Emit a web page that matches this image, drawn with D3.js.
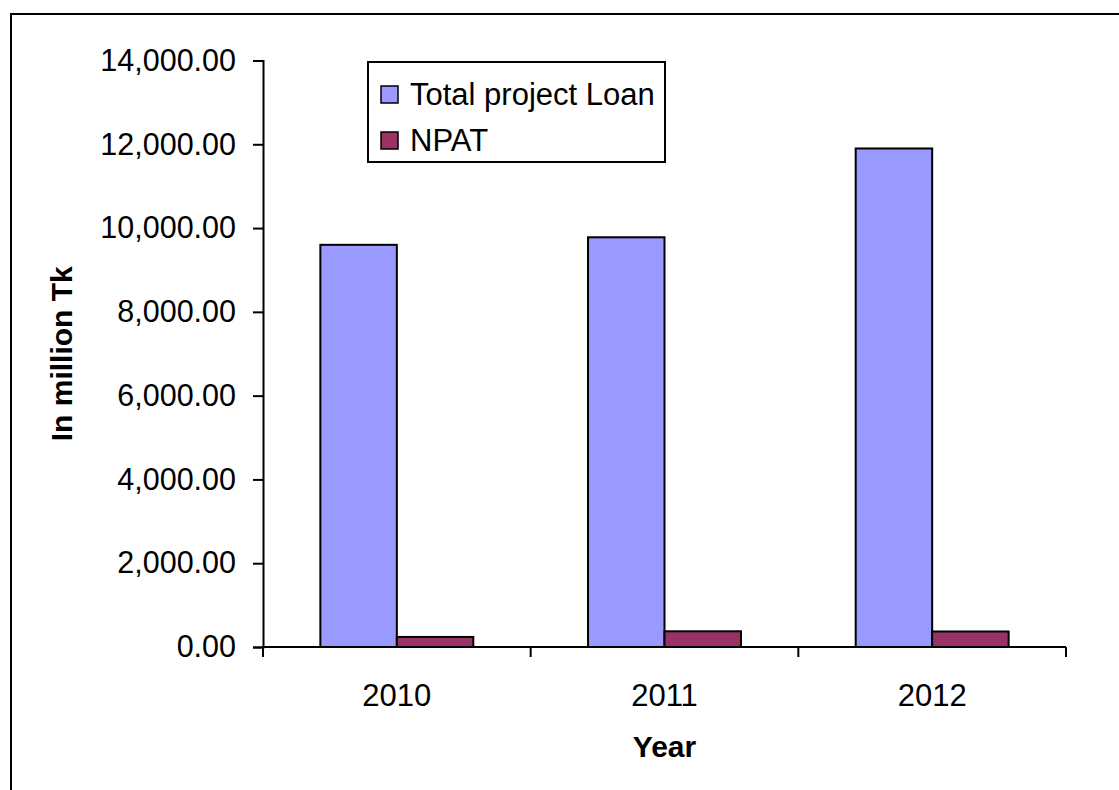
<!DOCTYPE html>
<html>
<head>
<meta charset="utf-8">
<script src="https://cdn.jsdelivr.net/npm/d3@7"></script>
<style>
  html, body { margin: 0; padding: 0; background: #fff; }
  svg { display: block; font-family: "Liberation Sans", Arial, sans-serif; }
</style>
</head>
<body>
<svg id="chart" width="1119" height="790"></svg>
<script>
// Chart data
const years = ["2010", "2011", "2012"];
const seriesNames = ["Total project Loan", "NPAT"];
const totalProjectLoan = [9600, 9780, 11900];
const npat = [240, 375, 370];
const yTicks = [0, 2000, 4000, 6000, 8000, 10000, 12000, 14000];
const seriesColors = ["#9999FF", "#993366"];

const svg = d3.select("#chart");

// Outer chart frame
svg.append("rect")
  .attr("x", 11).attr("y", 14)
  .attr("width", 1140).attr("height", 800)
  .attr("fill", "none").attr("stroke", "#000").attr("stroke-width", 2);

const plot = { left: 263, right: 1066, top: 60.5, bottom: 647 };

const x = d3.scaleBand().domain(years).range([plot.left, plot.right]).paddingInner(0).paddingOuter(0);
const xInner = d3.scaleBand().domain(seriesNames).range([0, x.bandwidth()]).paddingOuter(0.75).paddingInner(0);
const y = d3.scaleLinear().domain([0, 14000]).range([plot.bottom, plot.top]);

const rows = years.map((yr, i) => ({ year: yr, values: [totalProjectLoan[i], npat[i]] }));

// Bars
const groups = svg.append("g").selectAll("g").data(rows).join("g")
  .attr("transform", d => `translate(${x(d.year)},0)`);
groups.selectAll("rect")
  .data(d => d.values.map((v, k) => ({ name: seriesNames[k], value: v, k })))
  .join("rect")
  .attr("x", d => xInner(d.name))
  .attr("width", xInner.bandwidth())
  .attr("y", d => y(d.value))
  .attr("height", d => y(0) - y(d.value))
  .attr("fill", d => seriesColors[d.k])
  .attr("stroke", "#000").attr("stroke-width", 2);

// Y axis
const yAxis = d3.axisLeft(y).tickValues(yTicks).tickSize(10).tickPadding(17)
  .tickFormat(d3.format(",.2f"));
const gy = svg.append("g").attr("transform", `translate(${plot.left},0)`).call(yAxis);
gy.select(".domain").attr("stroke", "#000").attr("stroke-width", 2);
gy.selectAll(".tick line").attr("stroke", "#000").attr("stroke-width", 2);
gy.selectAll(".tick text").attr("font-size", 30.5).attr("fill", "#000")
  .attr("font-family", "'Liberation Sans', Arial, sans-serif");

// X axis: baseline with tick marks at category boundaries
const gx = svg.append("g").attr("transform", `translate(0,${plot.bottom})`);
gx.append("line").attr("x1", plot.left).attr("x2", plot.right)
  .attr("stroke", "#000").attr("stroke-width", 2);
const boundaries = years.map(d => x(d)).concat([plot.right]);
gx.selectAll("line.tick").data(boundaries).join("line").attr("class", "tick")
  .attr("x1", d => d).attr("x2", d => d).attr("y1", 0).attr("y2", 10)
  .attr("stroke", "#000").attr("stroke-width", 2);
gx.selectAll("text").data(years).join("text")
  .attr("x", d => x(d) + x.bandwidth() / 2)
  .attr("y", 59)
  .attr("text-anchor", "middle")
  .attr("font-size", 31)
  .text(d => d);

// Axis titles
svg.append("text")
  .attr("x", (plot.left + plot.right) / 2).attr("y", 757)
  .attr("text-anchor", "middle").attr("font-size", 30).attr("font-weight", "bold")
  .text("Year");
svg.append("text")
  .attr("transform", `translate(72,${(plot.top + plot.bottom) / 2}) rotate(-90)`)
  .attr("text-anchor", "middle").attr("font-size", 30).attr("font-weight", "bold")
  .text("In million Tk");

// Legend
const legend = svg.append("g");
legend.append("rect")
  .attr("x", 368).attr("y", 62).attr("width", 297).attr("height", 100)
  .attr("fill", "#fff").attr("stroke", "#000").attr("stroke-width", 2);
const items = legend.selectAll("g").data(seriesNames).join("g")
  .attr("transform", (d, i) => `translate(381,${86 + i * 46})`);
items.append("rect").attr("width", 17).attr("height", 17)
  .attr("fill", (d, i) => seriesColors[i]).attr("stroke", "#000").attr("stroke-width", 1.5);
items.append("text").attr("x", 29).attr("y", 19).attr("font-size", 31).text(d => d);
</script>
</body>
</html>
